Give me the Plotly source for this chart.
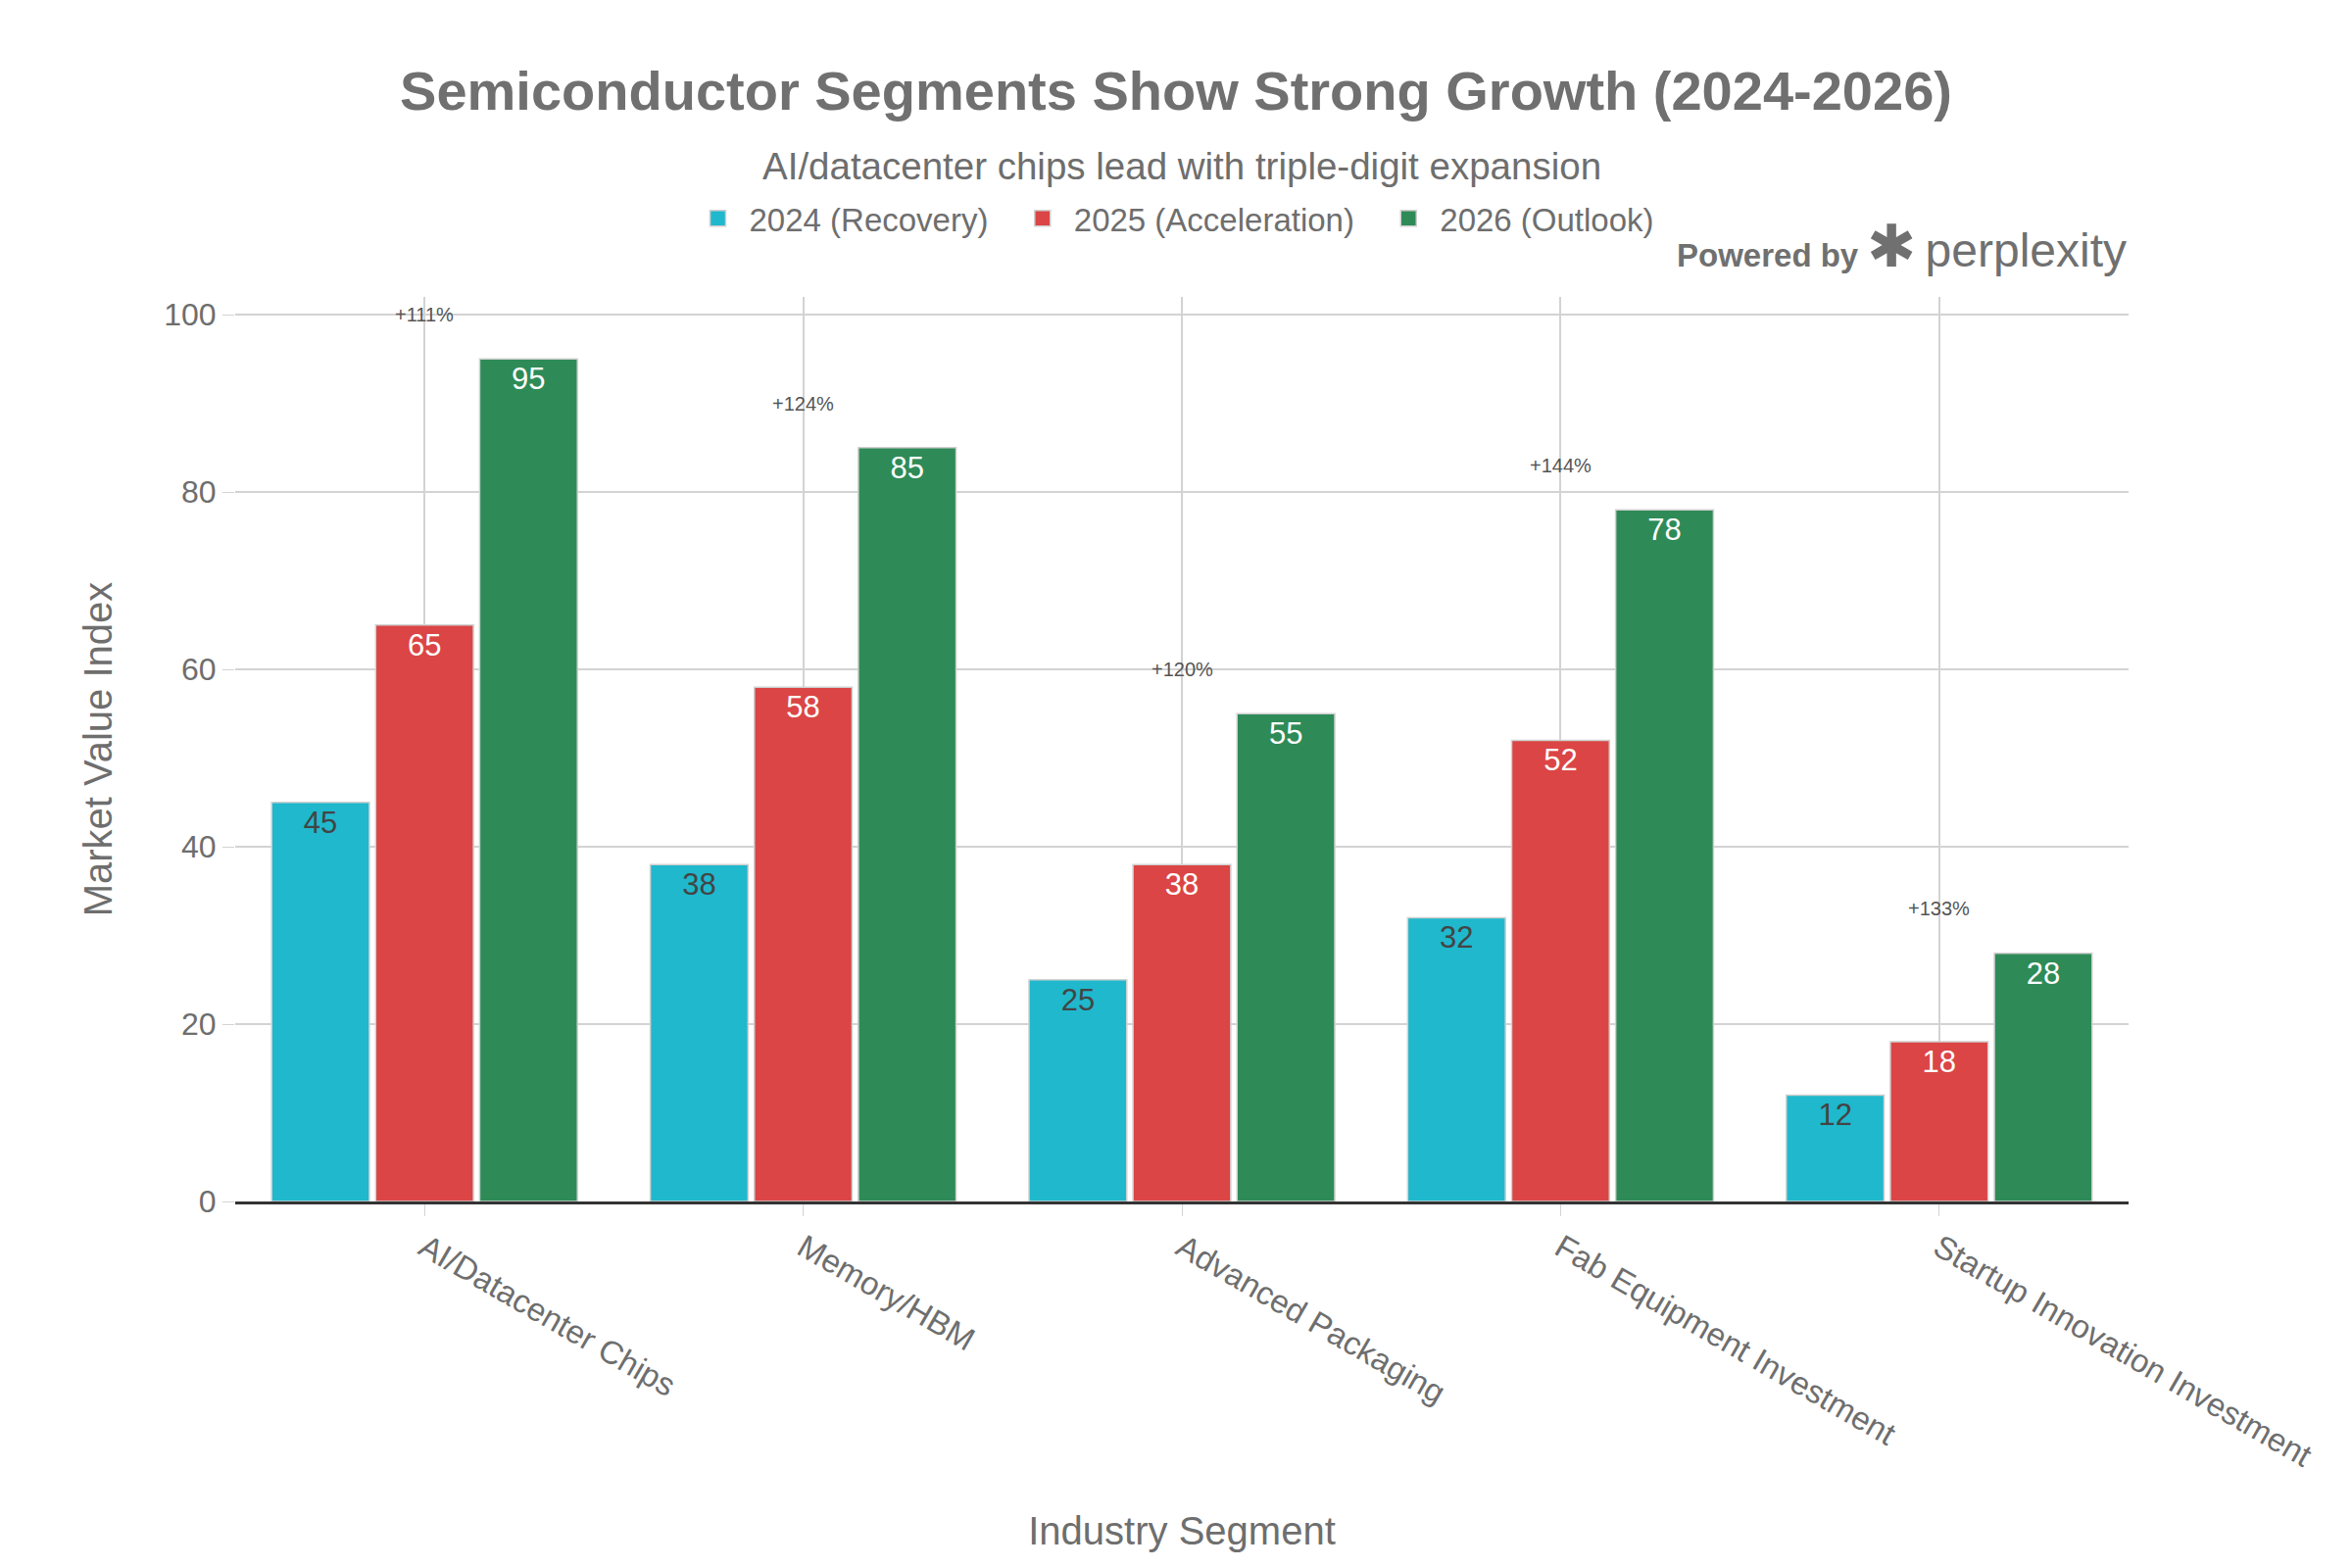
import plotly.graph_objects as go

segments = ["AI/Datacenter Chips", "Memory/HBM", "Advanced Packaging",
            "Fab Equipment Investment", "Startup Innovation Investment"]
values_2024 = [45, 38, 25, 32, 12]
values_2025 = [65, 58, 38, 52, 18]
values_2026 = [95, 85, 55, 78, 28]

series_names = ["2024 (Recovery)", "2025 (Acceleration)", "2026 (Outlook)"]
series_colors = ["#1FB8CD", "#DB4545", "#2E8B57"]

font_family = "Liberation Sans, Arial, sans-serif"
grey = "#6e6e6e"

fig = go.Figure()

for name, vals, col in zip(series_names, [values_2024, values_2025, values_2026], series_colors):
    fig.add_trace(go.Bar(
        x=segments,
        y=vals,
        name=name,
        showlegend=False,
        marker=dict(color=col, line=dict(color="#d0d0d0", width=1.5)),
        text=vals,
        textposition="inside",
        insidetextanchor="end",
        textfont=dict(size=31),
        cliponaxis=False,
    ))

# legend entries with bigger square swatches
for name, col in zip(series_names, series_colors):
    fig.add_trace(go.Scatter(
        x=[segments[0]], y=[None], mode="markers",
        name=name + "\u00a0\u00a0",
        marker=dict(symbol="square", size=24, color=col,
                    line=dict(color="#d0d0d0", width=1.5)),
    ))

# growth labels above the 2026 bars
for seg, v0, v2 in zip(segments, values_2024, values_2026):
    pct = (v2 - v0) / v0 * 100
    fig.add_annotation(
        x=seg, y=v2 + 5, text=f"+{pct:.0f}%", showarrow=False,
        font=dict(size=20, color="#555555"),
    )

fig.add_annotation(
    text="AI/datacenter chips lead with triple-digit expansion",
    xref="paper", yref="paper", x=0.5, y=1.145, showarrow=False,
    font=dict(size=38.5, color=grey), xanchor="center", yanchor="middle",
)
fig.add_annotation(
    text="<b>Powered by</b> <span style='font-size:60px'>✱</span> <span style='font-size:48px'>perplexity</span>",
    xref="paper", yref="paper", x=1.0, y=1.056, showarrow=False,
    font=dict(size=33, color="#707070"), xanchor="right", yanchor="middle",
)

fig.update_layout(
    width=2384,
    height=1584,
    paper_bgcolor="white",
    plot_bgcolor="white",
    font=dict(family=font_family, color=grey, size=32),
    title=dict(
        text="<b>Semiconductor Segments Show Strong Growth (2024-2026)</b>",
        x=0.5, xanchor="center", y=0.947, yanchor="middle", yref="container",
        font=dict(size=56, color="#707070"),
    ),
    barmode="group",
    bargap=0.176,
    bargroupgap=0.06,
    uniformtext=dict(minsize=26, mode="show"),
    legend=dict(
        orientation="h", x=0.5, xanchor="center", y=1.087, yanchor="middle",
        font=dict(size=33, color=grey), bgcolor="rgba(0,0,0,0)",
        itemwidth=54,
    ),
    margin=dict(l=232, r=220, t=295, b=366, autoexpand=False),
    xaxis=dict(
        title=dict(text="Industry Segment", font=dict(size=40, color=grey), standoff=46),
        tickangle=30,
        tickfont=dict(size=33, color=grey),
        showgrid=True, gridcolor="#d3d3d3", gridwidth=1.5,
        showline=True, linecolor="#333333", linewidth=3,
        ticks="outside", ticklen=12, tickcolor="#d3d3d3",
    ),
    yaxis=dict(
        title=dict(text="Market Value Index", font=dict(size=40, color=grey), standoff=40),
        range=[0, 102],
        tickvals=[0, 20, 40, 60, 80, 100],
        tickfont=dict(size=32, color=grey),
        showgrid=True, gridcolor="#d3d3d3", gridwidth=1.5,
        zeroline=False, showline=False,
        ticks="outside", ticklen=12, tickcolor="#d3d3d3",
    ),
)

fig.write_html("out.html")
